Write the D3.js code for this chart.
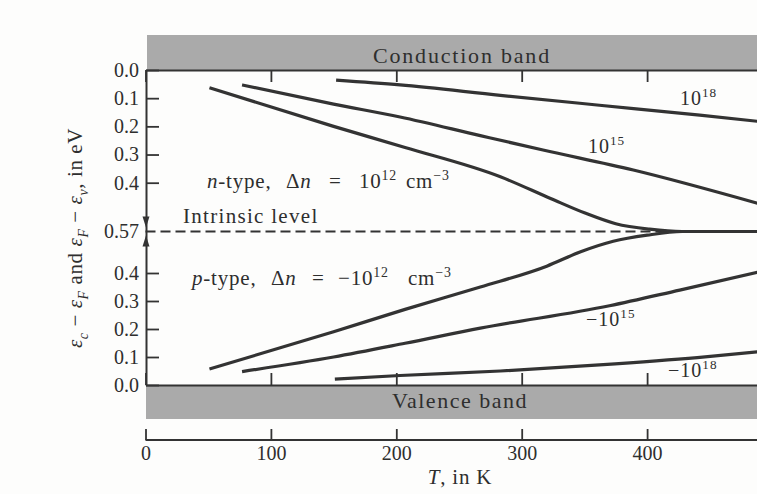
<!DOCTYPE html>
<html><head><meta charset="utf-8">
<script src="https://cdn.jsdelivr.net/npm/d3@7"></script>
<style>
body{margin:0;background:#fdfdfc;}
svg{display:block;}
text{font-family:"Liberation Serif","Times New Roman",serif;fill:#2e2e2e;white-space:pre;}
</style>
</head><body><svg id="c" width="757" height="494"></svg>
<script>
// ---- data (T in K, energy in eV) ----
const xTicks = [0, 100, 200, 300, 400, 500];
const yTicks = [0.0, 0.1, 0.2, 0.3, 0.4];
const intrinsicLevel = 0.57;

// n-type: eps_c - eps_F
const n18T = [152, 203, 283, 362, 442, 490];
const n18E = [0.036, 0.053, 0.090, 0.125, 0.160, 0.183];
const n15T = [77, 150, 203, 267, 317, 389, 490];
const n15E = [0.053, 0.121, 0.167, 0.233, 0.284, 0.355, 0.474];
const n12T = [51, 150, 207, 283, 323, 350, 375, 402, 428, 490];
const n12E = [0.063, 0.200, 0.275, 0.379, 0.455, 0.505, 0.543, 0.562, 0.570, 0.570];

// p-type: eps_F - eps_v
const p12T = [51, 150, 207, 267, 320, 347, 373, 400, 428, 490];
const p12E = [0.057, 0.190, 0.270, 0.350, 0.428, 0.487, 0.530, 0.555, 0.570, 0.570];
const p15T = [77, 150, 207, 267, 370, 426, 490];
const p15E = [0.048, 0.100, 0.149, 0.203, 0.283, 0.339, 0.405];
const p18T = [151, 203, 283, 362, 440, 490];
const p18E = [0.021, 0.034, 0.050, 0.072, 0.098, 0.119];

const svg = d3.select("#c");
const x = d3.scaleLinear().domain([0, 500]).range([145.5, 772.5]);
const yTop = d3.scaleLinear().domain([0, 0.4, 0.57]).range([70, 182.7, 231.5]);
const yBot = d3.scaleLinear().domain([0, 0.4, 0.57]).range([385, 273, 231.5]);

const ink = "#333";

function rich(parent, px, py, segs, size, opts = {}) {
  const t = parent.append("text").attr("x", px).attr("y", py).style("font-size", size + "px");
  if (opts.anchor) t.attr("text-anchor", opts.anchor);
  if (opts.ls != null) t.style("letter-spacing", opts.ls + "px");
  if (opts.transform) t.attr("transform", opts.transform);
  let shift = 0;
  segs.forEach(s => {
    const target = s.sup ? -0.4 * size : s.sub ? 0.3 * size : 0;
    const ts = t.append("tspan").text(s.t).attr("dy", target - shift);
    if (s.x != null) ts.attr("x", s.x);
    if (s.sup || s.sub) ts.style("font-size", (size * 0.66) + "px");
    if (s.it) ts.style("font-style", "italic");
    shift = target;
  });
  return t;
}

// bands
svg.append("rect").attr("x", 147).attr("y", 35).attr("width", 620).attr("height", 35).attr("fill", "#aaaaaa");
svg.append("rect").attr("x", 146).attr("y", 385).attr("width", 620).attr("height", 34).attr("fill", "#aaaaaa");

svg.append("text").attr("x", 462).attr("y", 63).attr("text-anchor", "middle")
  .style("font-size", "22px").style("letter-spacing", "1.8px").text("Conduction band");
svg.append("text").attr("x", 460).attr("y", 408).attr("text-anchor", "middle")
  .style("font-size", "22px").style("letter-spacing", "1.5px").text("Valence band");

// frame axes
function styleAxis(g) {
  g.selectAll("path.domain").attr("stroke", ink).attr("stroke-width", 2);
  g.selectAll(".tick line").attr("stroke", ink).attr("stroke-width", 1.8);
  g.selectAll(".tick text").style("font-size", "20px").style("font-family", "Liberation Serif, serif").attr("fill", "#2e2e2e");
}
const topAx = svg.append("g").attr("transform", "translate(0,70)")
  .call(d3.axisTop(x).tickValues(xTicks).tickSizeInner(-12).tickSizeOuter(0).tickFormat(""));
styleAxis(topAx);
const botAx = svg.append("g").attr("transform", "translate(0,385)")
  .call(d3.axisBottom(x).tickValues(xTicks).tickSizeInner(-12).tickSizeOuter(0).tickFormat(""));
styleAxis(botAx);

const fmt = d => d === intrinsicLevel ? "0.57" : d3.format(".1f")(d);
const leftTop = svg.append("g").attr("transform", "translate(146,0)")
  .call(d3.axisLeft(yTop).tickValues(yTicks.concat([intrinsicLevel])).tickSizeInner(-13).tickSizeOuter(0).tickPadding(7).tickFormat(fmt));
styleAxis(leftTop);
const leftBot = svg.append("g").attr("transform", "translate(146,0)")
  .call(d3.axisLeft(yBot).tickValues(yTicks).tickSizeInner(-13).tickSizeOuter(0).tickPadding(7).tickFormat(fmt));
styleAxis(leftBot);
leftTop.selectAll(".tick").filter(d => d === intrinsicLevel).select("line").remove();

// arrows at intrinsic level
const yi = yTop(intrinsicLevel);
svg.append("path").attr("d", `M142.5,${yi - 15}L149.5,${yi - 15}L146,${yi - 4}Z`).attr("fill", ink);
svg.append("path").attr("d", `M142.5,${yi + 15}L149.5,${yi + 15}L146,${yi + 4}Z`).attr("fill", ink);

// x axis
const xAx = svg.append("g").attr("transform", "translate(0,440)")
  .call(d3.axisBottom(x).tickValues(xTicks).tickSizeInner(-11).tickSizeOuter(0).tickPadding(6));
styleAxis(xAx);
xAx.selectAll("path.domain").attr("d", `M${x(0)},0H${x(500)}`);

rich(svg, 460, 484, [{t: "T", it: true}, {t: ", in K"}], 21, {anchor: "middle", ls: 0.8});

// y title
rich(svg, 0, 0, [
  {t: "ε", it: true}, {t: "c", sub: true, it: true}, {t: " − "},
  {t: "ε", it: true}, {t: "F", sub: true, it: true}, {t: " and "},
  {t: "ε", it: true}, {t: "F", sub: true, it: true}, {t: " − "},
  {t: "ε", it: true}, {t: "v", sub: true, it: true}, {t: ", in eV"}
], 21, {anchor: "middle", transform: "translate(82,238) rotate(-90)", ls: 0.6});

// intrinsic dashed line
svg.append("line").attr("x1", x(0)).attr("x2", x(420)).attr("y1", yi).attr("y2", yi)
  .attr("stroke", ink).attr("stroke-width", 1.8).attr("stroke-dasharray", "10,5");

// curves
const zip = (a, b) => a.map((t, i) => [t, b[i]]);
const lineTop = d3.line().x(d => x(d[0])).y(d => yTop(d[1])).curve(d3.curveMonotoneX);
const lineBot = d3.line().x(d => x(d[0])).y(d => yBot(d[1])).curve(d3.curveMonotoneX);
[[n18T, n18E], [n15T, n15E], [n12T, n12E]].forEach(([t, e]) =>
  svg.append("path").attr("d", lineTop(zip(t, e))).attr("fill", "none").attr("stroke", ink).attr("stroke-width", 3.2));
[[p18T, p18E], [p15T, p15E], [p12T, p12E]].forEach(([t, e]) =>
  svg.append("path").attr("d", lineBot(zip(t, e))).attr("fill", "none").attr("stroke", ink).attr("stroke-width", 3.2));

// annotations
rich(svg, 680, 105, [{t: "10"}, {t: "18", sup: true}], 20, {ls: 1});
rich(svg, 588, 153, [{t: "10"}, {t: "15", sup: true}], 20, {ls: 1});
rich(svg, 586, 326, [{t: "−10"}, {t: "15", sup: true}], 20, {ls: 1});
rich(svg, 668, 377, [{t: "−10"}, {t: "18", sup: true}], 20, {ls: 1});

rich(svg, 207, 188, [
  {t: "n", it: true}, {t: "-type,"}, {t: "Δ", x: 286}, {t: "n", it: true},
  {t: "=", x: 329}, {t: "10", x: 359}, {t: "12", sup: true}, {t: "cm", x: 406}, {t: "−3", sup: true}
], 21, {ls: 0.8});
svg.append("text").attr("x", 183).attr("y", 223).style("font-size", "21px").style("letter-spacing", "1.3px").text("Intrinsic level");
rich(svg, 192, 285, [
  {t: "p", it: true}, {t: "-type,"}, {t: "Δ", x: 271}, {t: "n", it: true},
  {t: "=", x: 312}, {t: "−10", x: 338}, {t: "12", sup: true}, {t: "cm", x: 408}, {t: "−3", sup: true}
], 21, {ls: 0.8});
</script></body></html>
